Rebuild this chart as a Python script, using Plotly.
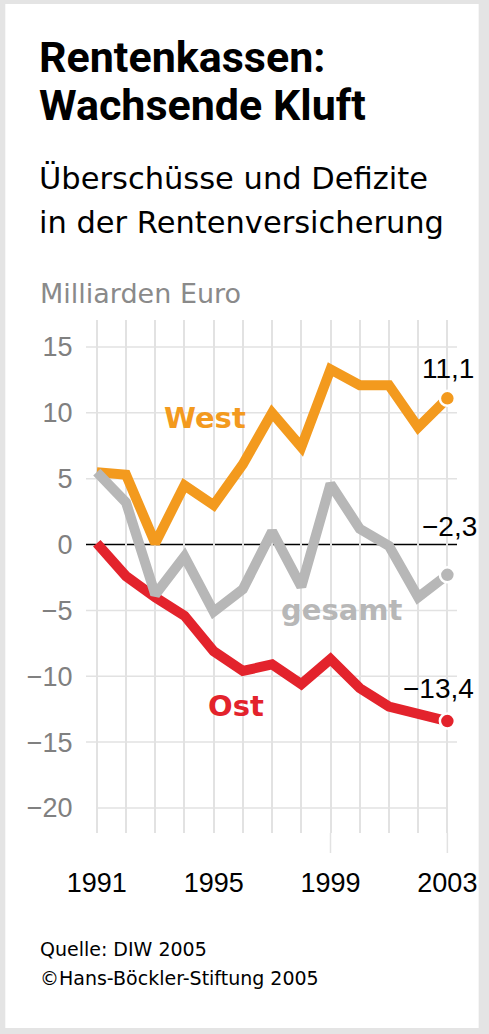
import plotly.graph_objects as go

# Jahre und Salden (Milliarden Euro)
years = [1991, 1992, 1993, 1994, 1995, 1996, 1997, 1998, 1999, 2000, 2001, 2002, 2003]
west = [5.5, 5.3, 0.1, 4.5, 3.0, 6.1, 10.0, 7.4, 13.3, 12.1, 12.1, 8.9, 11.1]
ost = [0.1, -2.4, -4.0, -5.4, -8.1, -9.6, -9.1, -10.6, -8.7, -10.9, -12.3, -12.9, -13.4]
gesamt = [5.5, 3.2, -3.8, -0.9, -5.1, -3.4, 1.0, -3.2, 4.6, 1.2, -0.1, -4.0, -2.3]

y_ticks = [15, 10, 5, 0, -5, -10, -15, -20]
y_labels = ["15", "10", "5", "0", "\u22125", "\u221210", "\u221215", "\u221220"]
x_ticks = [1991, 1995, 1999, 2003]
end_labels = ["11,1", "\u22122,3", "\u221213,4"]

ORANGE = "#f39a1e"
RED = "#e3232c"
GRAY = "#b7b7b7"
GRID = "#e2e2e2"

W, H = 489, 1034
L, R, T, B = 86, 463, 320, 833


def px(x):
    return (x - L) / (R - L)


def py(y):
    return (B - y) / (B - T)


fig = go.Figure()

# Linien: orange unten, rot, grau oben
for vals, col in [(west, ORANGE), (ost, RED), (gesamt, GRAY)]:
    fig.add_trace(go.Scatter(x=years, y=vals, mode="lines", line=dict(color=col, width=10),
                             hoverinfo="skip"))
    # Endpunkt mit weissem Rand
    fig.add_trace(go.Scatter(x=[years[-1]], y=[vals[-1]], mode="markers",
                             marker=dict(color=col, size=15, line=dict(color="white", width=2.5)),
                             hoverinfo="skip"))

shapes = [
    dict(type="rect", xref="paper", yref="paper", x0=px(4), x1=px(485), y0=py(1028), y1=py(4),
         fillcolor="white", line_width=0, layer="below"),
]
# horizontale Gitterlinien
for v in y_ticks:
    if v == -20:
        x0, x1, xr = years[0], years[-1], "x"
    else:
        x0, x1, xr = 0, 1, "paper"
    shapes.append(dict(type="line", xref=xr, yref="y", x0=x0, x1=x1, y0=v, y1=v,
                       line=dict(color="black" if v == 0 else GRID, width=1.6 if v == 0 else 1.5),
                       layer="between"))
# verlaengerte Striche bei 1999 und 2003
for yr in [1999, 2003]:
    shapes.append(dict(type="line", xref="x", yref="paper", x0=yr, x1=yr, y0=0, y1=py(853),
                       line=dict(color=GRID, width=1.5), layer="below"))

annotations = []


def text(x, y, s, size, color="black", family="DejaVu Sans", anchor="left", bold=False):
    annotations.append(dict(xref="paper", yref="paper", x=px(x), y=py(y), text=s, showarrow=False,
                            xanchor=anchor, yanchor="middle",
                            font=dict(size=size, color=color, family=family,
                                      weight="bold" if bold else "normal")))


text(36, 57, "Rentenkassen:", 43, family="Roboto", bold=True)
text(36, 105, "Wachsende Kluft", 43, family="Roboto", bold=True)
text(36, 179, "Überschüsse und Defizite", 30.5)
text(36, 223, "in der Rentenversicherung", 30.5)
text(37, 294, "Milliarden Euro", 27, color="#8a8a8a")

text(163, 418, "West", 29, color=ORANGE, bold=True)
text(346, 610, "gesamt", 29, color=GRAY, bold=True, anchor="center")
text(238, 706, "Ost", 29, color=RED, bold=True, anchor="center")

text(482, 368, end_labels[0], 28, family="Liberation Sans", anchor="right")
text(485, 526, end_labels[1], 28, family="Liberation Sans", anchor="right")
text(482, 688, end_labels[2], 28, family="Liberation Sans", anchor="right")

text(37, 949, "Quelle: DIW 2005", 19)
text(37, 978, "\u00a9Hans-Böckler-Stiftung 2005", 19)

fig.update_layout(
    width=W, height=H,
    margin=dict(l=L, r=W - R, t=T, b=H - B),
    paper_bgcolor="#e4e4e4",
    plot_bgcolor="rgba(0,0,0,0)",
    showlegend=False,
    shapes=shapes,
    annotations=annotations,
    font=dict(family="Liberation Sans"),
)
fig.update_xaxes(range=[1990.63, 2003.33], tickvals=x_ticks, ticktext=[str(x) for x in x_ticks],
                 showgrid=True, gridcolor=GRID, gridwidth=1.5,
                 minor=dict(dtick=1, tick0=1991, showgrid=True, gridcolor=GRID, gridwidth=1.5),
                 ticks="outside", ticklen=26, tickcolor="rgba(0,0,0,0)",
                 tickfont=dict(size=27, color="black", family="Liberation Sans"),
                 zeroline=False, showline=False, fixedrange=True)
fig.update_yaxes(range=[-21.9, 17.05], tickvals=y_ticks, ticktext=y_labels,
                 showgrid=False, zeroline=False, showline=False,
                 ticks="outside", ticklen=7, tickcolor="rgba(0,0,0,0)",
                 tickfont=dict(size=27, color="#808080", family="Liberation Sans"), fixedrange=True)

fig.write_html("out.html", config={"displayModeBar": False},
               post_script="document.body.style.margin='0';document.body.style.overflow='hidden';")
